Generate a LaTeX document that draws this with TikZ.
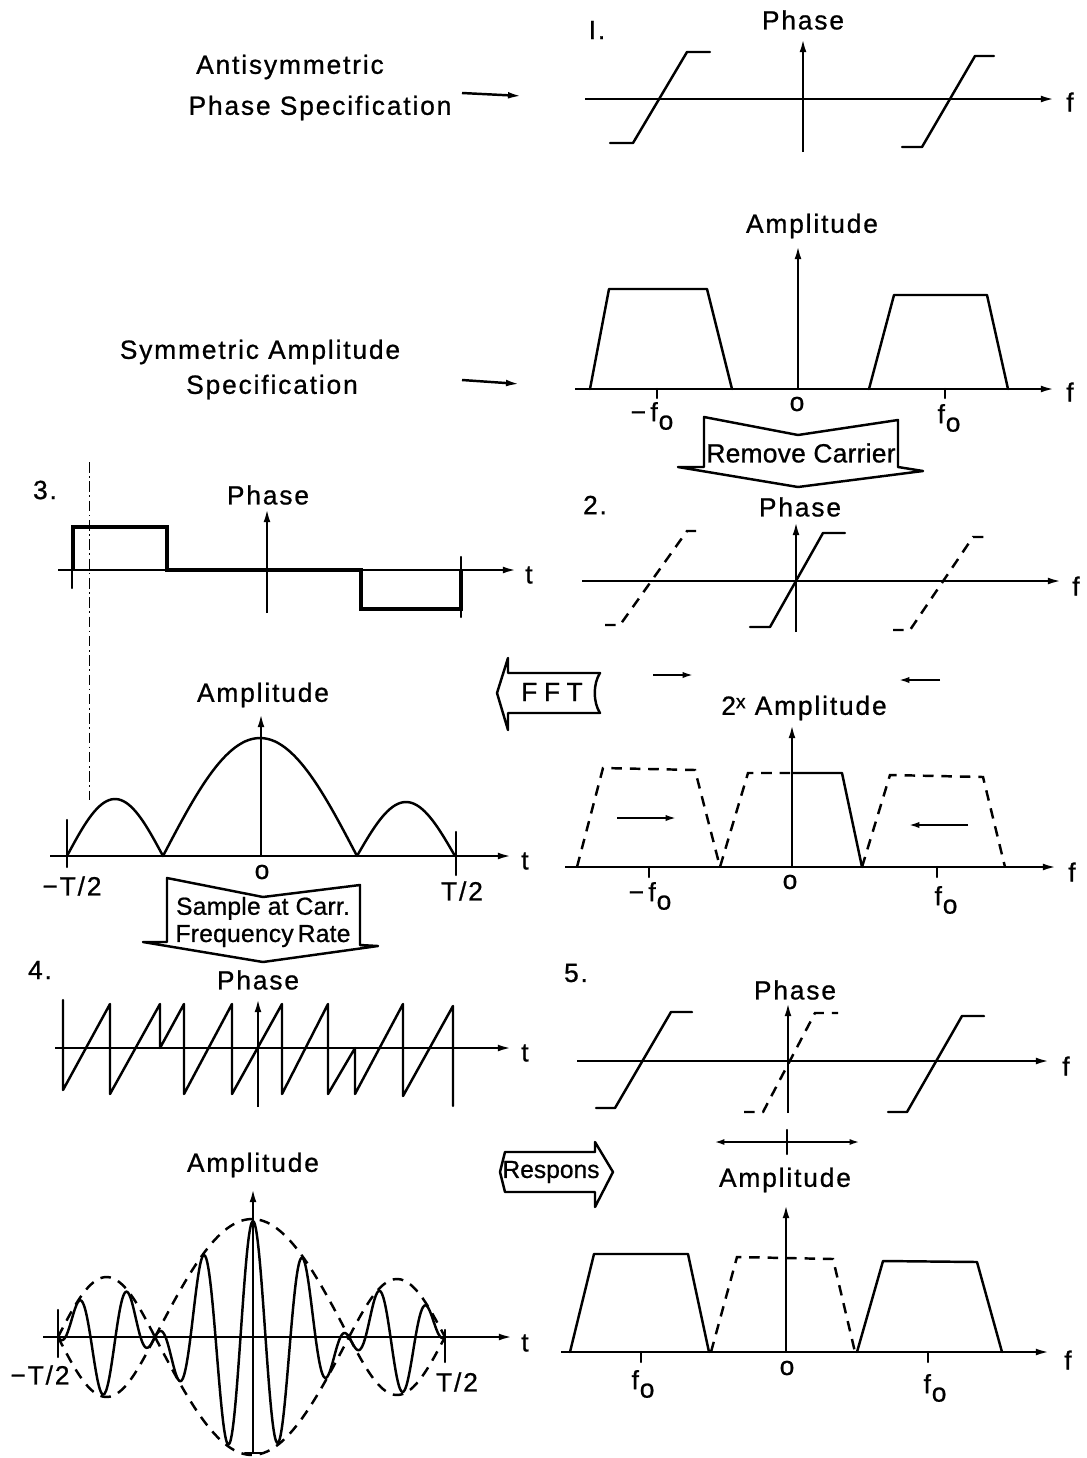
\documentclass[tikz,border=0pt]{standalone}
\usepackage{fontspec}
\setmainfont{Liberation Sans}
\newfontfamily\lbl[LetterSpace=7,FakeBold=0.8]{Liberation Sans}
\newfontfamily\lblt[LetterSpace=1,FakeBold=0.8]{Liberation Sans}
\newfontfamily\fftfont[LetterSpace=25,FakeBold=0.8]{Liberation Sans}
\newfontfamily\plainfont[FakeBold=0.8]{Liberation Sans}
\newcommand\fsubo{f\kern0.5pt\raisebox{-0.32em}{o}}
\usetikzlibrary{arrows.meta}
\begin{document}
\begin{tikzpicture}[x=0.02cm,y=-0.02cm,
  ln/.style={line width=1.4pt, line join=round, line cap=round},
  ax/.style={line width=1.4pt, -{Latex[length=8pt,width=3.8pt]}},
  tinyarr/.style={line width=1.4pt, -{Latex[length=7pt,width=3.4pt]}},
  dsh/.style={line width=1.4pt, dash pattern=on 6pt off 4.5pt, line cap=butt},
  lab/.style={font=\lbl\fontsize{15}{17}\selectfont, inner sep=1pt},
  sml/.style={font=\lblt\fontsize{14}{15.5}\selectfont, inner sep=1pt, align=center},
  blk/.style={line width=1.4pt, line join=round, fill=white},
]
\useasboundingbox (0,0) rectangle (1086,1458);

% ---------- left texts ----------
\node[lab] (anti) at (290,67) {Antisymmetric};
\node[lab] (phspec) at (320,108) {Phase Specification};
\coordinate (a1s) at (462,93); \coordinate (a1e) at (522,96);
\draw[ax] (a1s) -- (a1e);
\node[lab] (symamp) at (260,352) {Symmetric Amplitude};
\node[lab] (spec) at (272,387) {Specification};
\coordinate (a2s) at (462,380); \coordinate (a2e) at (520,384);
\draw[ax] (a2s) -- (a2e);

% ---------- panel 1: phase ----------
\node[lab] (n1) at (597,30) {I.};
\node[lab] (p1lbl) at (803,20) {Phase};
\coordinate (p1l) at (585,99); \coordinate (p1r) at (1055,99);
\draw[ax] (p1l) -- (p1r);
\node[lab] (p1f) at (1070,102) {f};
\coordinate (p1b) at (803,152); \coordinate (p1t) at (803,38);
\draw[ax] (p1b) -- (p1t);
\draw[ln] (610,143)--(633,143)--(687,52)--(710,52);
\draw[ln] (902,147)--(922,147)--(975,56)--(994,56);

% ---------- panel top-right: amplitude ----------
\node[lab] (a1lbl) at (812,226) {Amplitude};
\coordinate (a1l) at (575,389); \coordinate (a1r) at (1055,389);
\draw[ax] (a1l) -- (a1r);
\node[lab] (a1f) at (1070,392) {f};
\coordinate (a1b) at (798,389); \coordinate (a1t) at (798,245);
\draw[ax] (a1b) -- (a1t);
\draw[ln] (590,389)--(609,289)--(707,289)--(732,389);
\draw[ln] (869,389)--(894,295)--(987,295)--(1008,389);
\draw[ln] (657,389)--(657,398);
\draw[ln] (945,389)--(945,398);
\node[lab] (a1mf) at (652,416) {−\,\fsubo};
\node[lab] (a1o) at (797,404) {o};
\node[lab] (a1pf) at (949,418) {\fsubo};

% Remove Carrier block arrow
\draw[blk] (704,417) -- (798,435) -- (898,420) -- (898,467) -- (923,471) -- (798,487) -- (678,467) -- (704,467) -- cycle;
\node[lab, font=\lblt\fontsize{15}{17}\selectfont] (remc) at (801,453) {Remove Carrier};

% ---------- panel 3: phase (square wave) ----------
\draw[line width=0.5pt, dash pattern=on 6pt off 2pt on 1pt off 2pt] (89,462) -- (89,800);
\node[lab] (n3) at (45,490) {3.};
\node[lab] (p3lbl) at (268,495) {Phase};
\coordinate (p3l) at (58,570); \coordinate (p3r) at (517,570);
\draw[ax] (p3l) -- (p3r);
\node[lab] (p3t) at (529,575) {t};
\coordinate (p3vb) at (267,613); \coordinate (p3vt) at (267,508);
\draw[ax] (p3vb) -- (p3vt);
\draw[line width=2.5pt, line join=miter] (73,570)--(73,527)--(167,527)--(167,570)--(361,570)--(361,609)--(461,609)--(461,570);
\draw[ln] (72,570)--(72,588);
\draw[ln] (461,557)--(461,617);

% ---------- panel 2: phase ----------
\node[lab] (n2) at (595,505) {2.};
\node[lab] (p2lbl) at (800,507) {Phase};
\coordinate (p2l) at (582,581); \coordinate (p2r) at (1062,581);
\draw[ax] (p2l) -- (p2r);
\node[lab] (p2f) at (1076,586) {f};
\coordinate (p2vb) at (796,632); \coordinate (p2vt) at (796,521);
\draw[ax] (p2vb) -- (p2vt);
\draw[ln] (750,627)--(770,627)--(823,533)--(845,533);
\draw[dsh] (605,625)--(620,625)--(687,531)--(702,531);
\draw[dsh] (893,630)--(910,630)--(973,537)--(990,537);

% FFT block arrow
\draw[blk] (497,693) -- (508,658) -- (508,673) -- (600,673) .. controls (593,684) and (593,702) .. (600,713) -- (508,713) -- (508,730) -- cycle;
\node[lab, font=\fftfont\fontsize{15}{17}\selectfont] (fft) at (552,692) {FFT};

% small shift arrows
\coordinate (s1a) at (653,675); \coordinate (s1b) at (695,675);
\draw[tinyarr] (s1a) -- (s1b);
\coordinate (s2a) at (940,680); \coordinate (s2b) at (897,680);
\draw[tinyarr] (s2a) -- (s2b);

% ---------- panel 2x amplitude ----------
\node[lab] (a2lbl) at (804,708) {2\raisebox{0.25em}{\fontsize{11}{12}\selectfont x} Amplitude};
\coordinate (a2l) at (565,867); \coordinate (a2r) at (1057,867);
\draw[ax] (a2l) -- (a2r);
\node[lab] (a2f) at (1072,872) {f};
\coordinate (a2vb) at (792,867); \coordinate (a2vt) at (792,724);
\draw[ax] (a2vb) -- (a2vt);
\draw[ln] (792,773)--(842,773)--(862,867);
\draw[dsh] (577,867)--(603,768)--(695,770)--(720,867)--(748,773)--(792,773);
\draw[dsh] (862,867)--(890,775)--(983,777)--(1005,867);
\coordinate (s3a) at (617,818); \coordinate (s3b) at (678,818);
\draw[tinyarr] (s3a) -- (s3b);
\coordinate (s4a) at (968,825); \coordinate (s4b) at (907,825);
\draw[tinyarr] (s4a) -- (s4b);
\draw[ln] (649,867)--(649,877);
\draw[ln] (937,867)--(937,877);
\node[lab] (a2mf) at (650,896) {−\,\fsubo};
\node[lab] (a2o) at (790,882) {o};
\node[lab] (a2pf) at (946,900) {\fsubo};

% ---------- panel 3 amplitude ----------
\node[lab] (a3lbl) at (263,695) {Amplitude};
\coordinate (a3l) at (50,856); \coordinate (a3r) at (512,856);
\draw[ax] (a3l) -- (a3r);
\node[lab] (a3t) at (525,861) {t};
\coordinate (a3vb) at (261,856); \coordinate (a3vt) at (261,713);
\draw[ax] (a3vb) -- (a3vt);
\draw[ln] plot[domain=67:163, samples=40] (\x, {856 - 57*sin((\x-67)/96*180)});
\draw[ln] plot[domain=163:357, samples=60] (\x, {856 - 118*sin((\x-163)/194*180)});
\draw[ln] plot[domain=357:455, samples=40] (\x, {856 - 54*sin((\x-357)/98*180)});
\draw[ln] (67,820)--(67,867);
\draw[ln] (456,832)--(456,875);
\node[lab] (a3mt) at (72,886) {−T/2};
\node[lab] (a3o) at (262,872) {o};
\node[lab] (a3pt) at (462,891) {T/2};

% Sample block arrow
\draw[blk] (167,878) -- (263,897) -- (360,885) -- (360,945) -- (378,946) -- (263,962) -- (143,942) -- (167,942) -- cycle;
\node[sml] (samp) at (263,922) {Sample at Carr.\\Frequency\,Rate};

% ---------- panel 4 phase (sawtooth) ----------
\node[lab] (n4) at (40,970) {4.};
\node[lab] (p4lbl) at (258,980) {Phase};
\coordinate (p4l) at (55,1048); \coordinate (p4r) at (512,1048);
\draw[ax] (p4l) -- (p4r);
\node[lab] (p4t) at (525,1053) {t};
\coordinate (p4vb) at (258,1107); \coordinate (p4vt) at (258,998);
\draw[ax] (p4vb) -- (p4vt);
\draw[ln] (63,1000)--(63,1090)--(110,1004)--(110,1094)--(160,1004)--(160,1048)--(184,1004)--(184,1094)--(232,1004)--(232,1094)--(282,1004)--(282,1094)--(328,1004)--(328,1094)--(355,1048)--(355,1094)--(403,1004)--(403,1096)--(453,1006)--(453,1106);

% ---------- panel 5 phase ----------
\node[lab] (n5) at (576,973) {5.};
\node[lab] (p5lbl) at (795,990) {Phase};
\coordinate (p5l) at (577,1061); \coordinate (p5r) at (1050,1061);
\draw[ax] (p5l) -- (p5r);
\node[lab] (p5f) at (1066,1066) {f};
\coordinate (p5vb) at (788,1113); \coordinate (p5vt) at (788,1002);
\draw[ax] (p5vb) -- (p5vt);
\draw[ln] (596,1108)--(615,1108)--(671,1012)--(692,1012);
\draw[ln] (888,1112)--(907,1112)--(962,1016)--(984,1016);
\draw[dsh] (744,1112)--(763,1112)--(815,1013)--(838,1013);
\coordinate (dl) at (712,1142); \coordinate (dr) at (862,1142);
\draw[line width=1.4pt, {Latex[length=7pt,width=3.2pt]}-{Latex[length=7pt,width=3.2pt]}] (dl) -- (dr);
\draw[ln] (787,1130)--(787,1154);

% Respons block arrow
\draw[blk] (505,1152) -- (595,1152) -- (595,1142) -- (613,1172) -- (595,1207) -- (595,1192) -- (505,1192) -- (500,1172) -- cycle;
\node[sml, font=\plainfont\fontsize{14}{16}\selectfont] (resp) at (551,1172) {Respons};

% ---------- panel 5 amplitude ----------
\node[lab] (a5lbl) at (785,1180) {Amplitude};
\coordinate (a5l) at (561,1352); \coordinate (a5r) at (1050,1352);
\draw[ax] (a5l) -- (a5r);
\node[lab] (a5f) at (1068,1360) {f};
\coordinate (a5vb) at (786,1352); \coordinate (a5vt) at (786,1204);
\draw[ax] (a5vb) -- (a5vt);
\draw[ln] (570,1352)--(594,1254)--(688,1254)--(709,1352);
\draw[dsh] (711,1352)--(737,1257)--(833,1259)--(855,1352);
\draw[ln] (857,1352)--(883,1261)--(977,1262)--(1002,1352);
\draw[ln] (641,1352)--(641,1362);
\draw[ln] (928,1352)--(928,1362);
\node[lab] (a5f1) at (643,1384) {\fsubo};
\node[lab] (a5o) at (787,1368) {o};
\node[lab] (a5f2) at (935,1388) {\fsubo};

% ---------- panel 4 amplitude (modulated carrier) ----------
\node[lab] (a4lbl) at (253,1165) {Amplitude};
\coordinate (a4l) at (43,1337); \coordinate (a4r) at (513,1337);
\draw[ax] (a4l) -- (a4r);
\node[lab] (a4t) at (525,1343) {t};
\coordinate (a4vb) at (253,1453); \coordinate (a4vt) at (253,1188);
\draw[ax] (a4vb) -- (a4vt);
\draw[ln] (245,1453)--(262,1453);
\draw[ln] (58,1310)--(58,1357);
\draw[ln] (445,1330)--(445,1362);
\node[lab] (a4mt) at (40,1375) {−T/2};
\node[lab] (a4pt) at (457,1382) {T/2};
% envelope
\draw[dsh] plot[domain=58:155, samples=40] (\x, {1337 - 60*sin((\x-58)/97*180)});
\draw[dsh] plot[domain=58:155, samples=40] (\x, {1337 + 60*sin((\x-58)/97*180)});
\draw[dsh] plot[domain=155:349, samples=60] (\x, {1337 - 118*sin((\x-155)/194*180)});
\draw[dsh] plot[domain=155:349, samples=60] (\x, {1337 + 118*sin((\x-155)/194*180)});
\draw[dsh] plot[domain=349:445, samples=40] (\x, {1337 - 58*sin((\x-349)/96*180)});
\draw[dsh] plot[domain=349:445, samples=40] (\x, {1337 + 58*sin((\x-349)/96*180)});
% carrier
\draw[ln] plot[domain=58:155, samples=80, smooth] (\x, {1337 + 58*sin((\x-58)/97*180)*cos((\x-253)/50*360)});
\draw[ln] plot[domain=155:349, samples=160, smooth] (\x, {1337 - 116*sin((\x-155)/194*180)*cos((\x-253)/50*360)});
\draw[ln] plot[domain=349:445, samples=80, smooth] (\x, {1337 + 56*sin((\x-349)/96*180)*cos((\x-253)/50*360)});
\end{tikzpicture}
\end{document}
